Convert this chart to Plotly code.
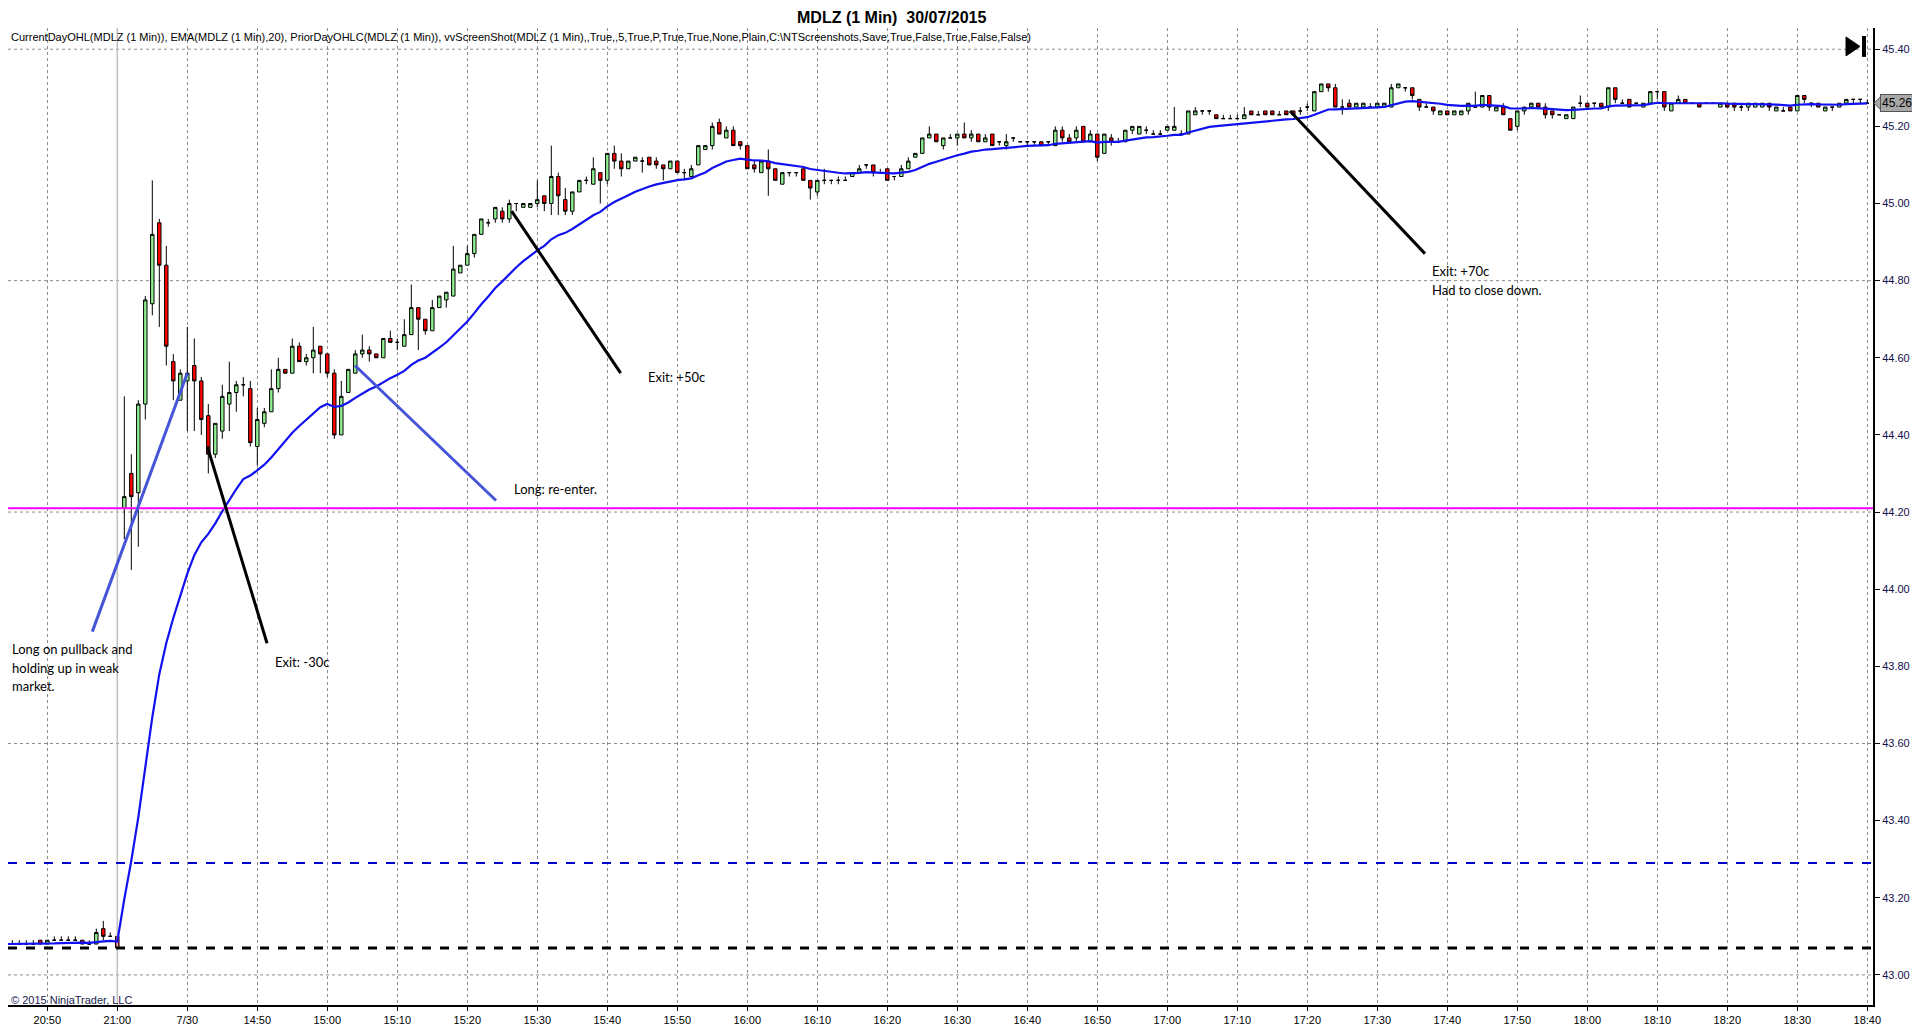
import pandas as pd
import plotly.graph_objects as go

# bar index: -16..0 = 20:44..21:00 of 29/07, 1..250 = 14:31..18:40 of 30/07
bar_idx = list(range(-16, 251))

opens = [
    43.08, 43.08, 43.08, 43.08, 43.08, 43.09, 43.08, 43.09, 43.09, 43.09,
    43.09, 43.09, 43.08, 43.08, 43.12, 43.10, 43.10,
    44.21, 44.30, 44.25, 44.48, 44.74, 44.95, 44.84, 44.59, 44.49, 44.54,
    44.58, 44.54, 44.45, 44.35, 44.41, 44.48, 44.51, 44.53, 44.52, 44.37,
    44.43, 44.46, 44.52, 44.57, 44.56, 44.63, 44.59, 44.60, 44.63, 44.61,
    44.56, 44.40, 44.51, 44.56, 44.61, 44.62, 44.61, 44.60, 44.65, 44.64,
    44.63, 44.66, 44.73, 44.70, 44.67, 44.73, 44.75, 44.76, 44.82, 44.84,
    44.87, 44.92, 44.95, 44.96, 44.98, 44.96, 45.00, 44.99, 44.99, 45.00,
    45.02, 45.00, 45.07, 45.01, 44.98, 45.03, 45.06, 45.05, 45.08, 45.06,
    45.13, 45.11, 45.09, 45.11, 45.11, 45.12, 45.11, 45.10, 45.09, 45.11,
    45.08, 45.07, 45.10, 45.14, 45.15, 45.21, 45.17, 45.19, 45.16, 45.15,
    45.10, 45.08, 45.11, 45.09, 45.05, 45.08, 45.08, 45.09, 45.06, 45.03,
    45.06, 45.06, 45.06, 45.06, 45.07, 45.08, 45.10, 45.10, 45.08, 45.09,
    45.07, 45.07, 45.09, 45.12, 45.13, 45.17, 45.18, 45.15, 45.17, 45.17,
    45.18, 45.17, 45.18, 45.16, 45.18, 45.16, 45.15, 45.17, 45.16, 45.16,
    45.16, 45.16, 45.16, 45.15, 45.19, 45.17, 45.17, 45.20, 45.16, 45.18,
    45.13, 45.17, 45.16, 45.16, 45.19, 45.18, 45.19, 45.18, 45.18, 45.19,
    45.19, 45.18, 45.18, 45.23, 45.24, 45.24, 45.23, 45.22, 45.22, 45.22,
    45.22, 45.24, 45.23, 45.24, 45.24, 45.23, 45.24, 45.24, 45.24, 45.25,
    45.24, 45.29, 45.31, 45.30, 45.25, 45.26, 45.25, 45.25, 45.25, 45.25,
    45.25, 45.25, 45.30, 45.30, 45.30, 45.27, 45.25, 45.25, 45.23, 45.24,
    45.23, 45.23, 45.24, 45.25, 45.25, 45.28, 45.24, 45.25, 45.22, 45.20,
    45.24, 45.25, 45.26, 45.25, 45.24, 45.23, 45.22, 45.22, 45.26, 45.26,
    45.26, 45.26, 45.25, 45.30, 45.26, 45.27, 45.26, 45.25, 45.26, 45.29,
    45.29, 45.24, 45.26, 45.27, 45.26, 45.26, 45.26, 45.26, 45.25, 45.26,
    45.26, 45.25, 45.25, 45.25, 45.25, 45.26, 45.24, 45.24, 45.25, 45.24,
    45.28, 45.26, 45.26, 45.24, 45.25, 45.25, 45.26, 45.27, 45.27, 45.26,
]
highs = [
    43.09, 43.09, 43.09, 43.09, 43.09, 43.09, 43.09, 43.10, 43.10, 43.10,
    43.10, 43.09, 43.09, 43.12, 43.14, 43.11, 43.10,
    44.50, 44.35, 44.49, 44.76, 45.06, 44.96, 44.89, 44.61, 44.57, 44.68,
    44.65, 44.55, 44.48, 44.43, 44.53, 44.59, 44.54, 44.55, 44.54, 44.47,
    44.47, 44.57, 44.60, 44.57, 44.65, 44.64, 44.61, 44.68, 44.63, 44.61,
    44.57, 44.54, 44.57, 44.62, 44.66, 44.63, 44.61, 44.65, 44.67, 44.65,
    44.70, 44.79, 44.73, 44.70, 44.75, 44.76, 44.77, 44.89, 44.84, 44.89,
    44.92, 44.96, 44.96, 44.99, 44.99, 45.01, 45.00, 45.00, 45.00, 45.06,
    45.02, 45.15, 45.08, 45.04, 45.03, 45.06, 45.07, 45.12, 45.08, 45.13,
    45.15, 45.13, 45.11, 45.12, 45.12, 45.12, 45.12, 45.10, 45.11, 45.11,
    45.09, 45.10, 45.15, 45.15, 45.21, 45.22, 45.20, 45.20, 45.16, 45.15,
    45.11, 45.11, 45.14, 45.09, 45.08, 45.08, 45.08, 45.09, 45.06, 45.06,
    45.09, 45.06, 45.07, 45.07, 45.08, 45.10, 45.10, 45.10, 45.09, 45.09,
    45.07, 45.10, 45.12, 45.13, 45.17, 45.20, 45.18, 45.17, 45.18, 45.18,
    45.21, 45.19, 45.18, 45.18, 45.18, 45.16, 45.18, 45.17, 45.16, 45.16,
    45.16, 45.16, 45.16, 45.20, 45.20, 45.18, 45.20, 45.20, 45.19, 45.18,
    45.18, 45.18, 45.17, 45.19, 45.20, 45.20, 45.20, 45.19, 45.19, 45.20,
    45.25, 45.19, 45.24, 45.25, 45.24, 45.24, 45.23, 45.23, 45.23, 45.23,
    45.25, 45.24, 45.24, 45.24, 45.24, 45.24, 45.24, 45.24, 45.25, 45.26,
    45.29, 45.31, 45.31, 45.31, 45.27, 45.27, 45.26, 45.26, 45.26, 45.26,
    45.26, 45.31, 45.31, 45.30, 45.30, 45.27, 45.26, 45.25, 45.24, 45.24,
    45.24, 45.24, 45.26, 45.29, 45.28, 45.28, 45.25, 45.26, 45.22, 45.24,
    45.25, 45.26, 45.26, 45.26, 45.24, 45.23, 45.23, 45.25, 45.28, 45.26,
    45.26, 45.26, 45.30, 45.30, 45.27, 45.27, 45.26, 45.26, 45.29, 45.29,
    45.29, 45.26, 45.28, 45.27, 45.26, 45.26, 45.26, 45.26, 45.26, 45.26,
    45.26, 45.26, 45.26, 45.26, 45.26, 45.26, 45.25, 45.25, 45.25, 45.28,
    45.28, 45.26, 45.26, 45.25, 45.25, 45.26, 45.27, 45.27, 45.27, 45.27,
]
lows = [
    43.08, 43.08, 43.08, 43.08, 43.08, 43.08, 43.08, 43.09, 43.09, 43.09,
    43.09, 43.08, 43.08, 43.08, 43.09, 43.10, 43.07,
    44.13, 44.05, 44.11, 44.44, 44.71, 44.68, 44.58, 44.49, 44.49, 44.41,
    44.41, 44.40, 44.30, 44.34, 44.39, 44.41, 44.46, 44.50, 44.37, 44.32,
    44.42, 44.46, 44.51, 44.56, 44.56, 44.59, 44.58, 44.56, 44.56, 44.55,
    44.39, 44.40, 44.51, 44.56, 44.60, 44.59, 44.60, 44.60, 44.64, 44.62,
    44.63, 44.66, 44.62, 44.66, 44.67, 44.73, 44.73, 44.76, 44.82, 44.84,
    44.86, 44.92, 44.94, 44.95, 44.95, 44.95, 44.98, 44.99, 44.99, 44.99,
    44.98, 44.97, 44.97, 44.97, 44.97, 45.03, 45.05, 45.05, 45.00, 45.05,
    45.09, 45.07, 45.09, 45.11, 45.08, 45.10, 45.09, 45.06, 45.09, 45.08,
    45.06, 45.07, 45.10, 45.14, 45.14, 45.18, 45.17, 45.15, 45.14, 45.09,
    45.08, 45.08, 45.02, 45.06, 45.05, 45.07, 45.07, 45.06, 45.01, 45.02,
    45.05, 45.05, 45.05, 45.06, 45.07, 45.08, 45.09, 45.07, 45.08, 45.06,
    45.06, 45.07, 45.09, 45.12, 45.13, 45.17, 45.16, 45.14, 45.17, 45.15,
    45.17, 45.16, 45.16, 45.16, 45.15, 45.15, 45.14, 45.16, 45.16, 45.15,
    45.15, 45.15, 45.15, 45.15, 45.16, 45.16, 45.16, 45.16, 45.16, 45.11,
    45.13, 45.15, 45.16, 45.16, 45.18, 45.18, 45.18, 45.18, 45.18, 45.19,
    45.19, 45.18, 45.18, 45.23, 45.23, 45.23, 45.22, 45.22, 45.22, 45.22,
    45.22, 45.23, 45.23, 45.23, 45.23, 45.23, 45.23, 45.23, 45.23, 45.24,
    45.24, 45.29, 45.29, 45.25, 45.23, 45.25, 45.25, 45.25, 45.25, 45.25,
    45.25, 45.25, 45.30, 45.29, 45.27, 45.24, 45.25, 45.23, 45.23, 45.23,
    45.23, 45.23, 45.23, 45.25, 45.25, 45.24, 45.24, 45.23, 45.19, 45.19,
    45.23, 45.25, 45.25, 45.22, 45.22, 45.23, 45.22, 45.22, 45.25, 45.25,
    45.25, 45.25, 45.24, 45.26, 45.26, 45.25, 45.26, 45.25, 45.26, 45.27,
    45.24, 45.24, 45.26, 45.26, 45.26, 45.25, 45.26, 45.26, 45.25, 45.25,
    45.24, 45.24, 45.24, 45.25, 45.25, 45.24, 45.24, 45.24, 45.24, 45.24,
    45.26, 45.25, 45.25, 45.24, 45.24, 45.25, 45.26, 45.26, 45.26, 45.26,
]
closes = [
    43.08, 43.08, 43.08, 43.08, 43.08, 43.08, 43.09, 43.09, 43.09, 43.09,
    43.09, 43.08, 43.08, 43.11, 43.10, 43.10, 43.07,
    44.24, 44.24, 44.48, 44.75, 44.92, 44.84, 44.63, 44.54, 44.56, 44.56,
    44.54, 44.44, 44.35, 44.43, 44.50, 44.51, 44.53, 44.53, 44.38, 44.44,
    44.46, 44.52, 44.57, 44.56, 44.63, 44.59, 44.60, 44.62, 44.61, 44.56,
    44.40, 44.50, 44.57, 44.61, 44.62, 44.61, 44.60, 44.65, 44.64, 44.64,
    44.66, 44.73, 44.70, 44.67, 44.73, 44.76, 44.77, 44.83, 44.84, 44.87,
    44.92, 44.96, 44.95, 44.99, 44.96, 45.00, 45.00, 45.00, 45.00, 45.01,
    45.00, 45.07, 45.02, 44.98, 45.03, 45.06, 45.06, 45.09, 45.06, 45.13,
    45.11, 45.09, 45.11, 45.12, 45.11, 45.10, 45.10, 45.09, 45.11, 45.08,
    45.08, 45.09, 45.15, 45.15, 45.20, 45.18, 45.19, 45.15, 45.15, 45.09,
    45.09, 45.11, 45.09, 45.06, 45.08, 45.08, 45.08, 45.06, 45.04, 45.06,
    45.06, 45.06, 45.06, 45.06, 45.08, 45.09, 45.10, 45.08, 45.08, 45.06,
    45.07, 45.09, 45.11, 45.13, 45.17, 45.18, 45.16, 45.17, 45.17, 45.18,
    45.17, 45.18, 45.16, 45.17, 45.15, 45.16, 45.16, 45.17, 45.16, 45.16,
    45.16, 45.15, 45.16, 45.19, 45.17, 45.16, 45.19, 45.16, 45.18, 45.12,
    45.18, 45.16, 45.16, 45.19, 45.20, 45.20, 45.19, 45.18, 45.18, 45.20,
    45.20, 45.18, 45.24, 45.24, 45.24, 45.24, 45.22, 45.22, 45.22, 45.22,
    45.23, 45.23, 45.23, 45.23, 45.23, 45.23, 45.23, 45.23, 45.24, 45.25,
    45.29, 45.31, 45.30, 45.25, 45.25, 45.25, 45.26, 45.26, 45.25, 45.26,
    45.26, 45.30, 45.31, 45.30, 45.28, 45.25, 45.25, 45.24, 45.24, 45.23,
    45.24, 45.24, 45.26, 45.25, 45.28, 45.25, 45.25, 45.23, 45.19, 45.24,
    45.25, 45.26, 45.25, 45.23, 45.23, 45.23, 45.23, 45.25, 45.26, 45.25,
    45.26, 45.25, 45.30, 45.27, 45.26, 45.25, 45.26, 45.26, 45.29, 45.29,
    45.25, 45.26, 45.27, 45.26, 45.26, 45.25, 45.26, 45.26, 45.26, 45.25,
    45.25, 45.25, 45.26, 45.26, 45.26, 45.25, 45.25, 45.24, 45.24, 45.28,
    45.27, 45.26, 45.25, 45.25, 45.25, 45.26, 45.27, 45.27, 45.27, 45.26,
]

tick_idx = list(range(-10, 251, 10))
tick_text = ["20:50", "21:00", "7/30", "14:50", "15:00", "15:10", "15:20", "15:30",
             "15:40", "15:50", "16:00", "16:10", "16:20", "16:30", "16:40", "16:50",
             "17:00", "17:10", "17:20", "17:30", "17:40", "17:50", "18:00", "18:10",
             "18:20", "18:30", "18:40"]

price_ticks = [43.00, 43.20, 43.40, 43.60, 43.80, 44.00, 44.20, 44.40,
               44.60, 44.80, 45.00, 45.20, 45.40]
price_grid = [43.00, 43.60, 44.20, 44.80, 45.40]

current_day_open = 44.21   # magenta
prior_day_level = 43.29    # blue dashed
prior_day_close = 43.07    # black dashed
session_break = 0          # bar index of the 21:00 close

ema_len = 20

# hand drawn trade lines (bar index, price)
trade_lines = [
    ((-3.57, 43.89), (10.0, 44.56), "rgb(70,85,215)"),
    ((12.86, 44.37), (21.39, 43.86), "black"),
    ((33.96, 44.58), (54.1, 44.23), "rgb(70,85,215)"),
    ((56.34, 44.98), (71.91, 44.56), "black"),
    ((167.53, 45.24), (186.81, 44.87), "black"),
]
notes = [
    (-15.3, 43.846, "Long on pullback and"),
    (-15.3, 43.797, "holding up in weak"),
    (-15.3, 43.750, "market."),
    (22.2, 43.81, "Exit: -30c"),
    (56.4, 44.26, "Long: re-enter."),
    (75.5, 44.549, "Exit: +50c"),
    (187.5, 44.825, "Exit: +70c"),
    (187.5, 44.777, "Had to close down."),
]

assert len(opens) == len(highs) == len(lows) == len(closes) == len(bar_idx)

df = pd.DataFrame({"bar": bar_idx, "open": opens, "high": highs, "low": lows, "close": closes})
df["ema"] = df["close"].ewm(span=ema_len, adjust=False).mean()

# page body adds 8px offset, so the figure is 16px smaller than the window
W, H = 1904, 1018
OFF = 8
plot_l, plot_r, plot_t, plot_b = 8, 1873, 28, 1009   # plot box in window pixels


def px(X):
    return (X - plot_l) / (plot_r - plot_l)


def py(Y):
    return (plot_b - Y) / (plot_b - plot_t)


narrow = "Liberation Sans Narrow, Arial Narrow, Liberation Sans, Arial"
yr = [42.922, 45.455]
xr = [(plot_l - 117.3) / 7.0, (plot_r - 117.3) / 7.0]

fig = go.Figure()
# session break line drawn as a trace so it sits above the dotted grid but under the candles
fig.add_trace(go.Scatter(x=[session_break, session_break], y=yr, mode="lines",
                         line=dict(color="#c0c0c0", width=1.5), showlegend=False, hoverinfo="skip"))
fig.add_trace(go.Candlestick(
    x=df["bar"], open=df["open"], high=df["high"], low=df["low"], close=df["close"],
    increasing=dict(fillcolor="#90ee90", line=dict(color="black", width=1)),
    decreasing=dict(fillcolor="#ff0000", line=dict(color="black", width=1)),
    whiskerwidth=0, showlegend=False, hoverinfo="skip"))
fig.add_trace(go.Scatter(x=df["bar"], y=df["ema"], mode="lines",
                         line=dict(color="#1010f0", width=2.2), showlegend=False, hoverinfo="skip"))

# horizontal levels
for lvl, col, dash, w in [(current_day_open, "#ff00ff", "solid", 2),
                          (prior_day_level, "#0000cc", "dash", 2),
                          (prior_day_close, "black", "dash", 3)]:
    fig.add_shape(type="line", xref="x domain", yref="y", x0=0, x1=1, y0=lvl, y1=lvl,
                  line=dict(color=col, width=w, dash=dash))

# price grid (every 0.60)
for g in price_grid:
    fig.add_shape(type="line", xref="x domain", yref="y", x0=0, x1=1, y0=g, y1=g,
                  line=dict(color="#8c8c8c", width=1, dash="dot"), layer="below")

for (x0, y0), (x1, y1), col in trade_lines:
    fig.add_shape(type="line", x0=x0, y0=y0, x1=x1, y1=y1, line=dict(color=col, width=3))

for x, y, t in notes:
    fig.add_annotation(x=x, y=y, text=t, showarrow=False, xanchor="left", yanchor="middle",
                       font=dict(family="Lato", size=13, color="black"))

# last price tag
last = closes[-1]
fig.add_annotation(xref="paper", x=px(1880), y=last, text="%.2f" % last, showarrow=False,
                   xanchor="left", yanchor="middle", bgcolor="#a8a8a8", bordercolor="#555555",
                   borderwidth=1, borderpad=1, font=dict(family=narrow, size=12, color="black"))
fig.add_shape(type="path", xref="paper", yref="y",
              path="M %f %f L %f %f L %f %f Z" % (px(1874), last, px(1881), last + 0.018,
                                                  px(1881), last - 0.018),
              fillcolor="#a8a8a8", line=dict(color="#555555", width=1))

# "go to end" button
fig.add_shape(type="path", xref="paper", yref="paper",
              path="M %f %f L %f %f L %f %f Z" % (px(1846), py(37), px(1860), py(46.5), px(1846), py(56)),
              fillcolor="black", line=dict(color="black", width=1))
fig.add_shape(type="rect", xref="paper", yref="paper", x0=px(1862), x1=px(1866), y0=py(57), y1=py(36),
              fillcolor="black", line=dict(width=0))

fig.add_annotation(xref="paper", yref="paper", x=px(891), y=py(17), text="<b>MDLZ (1 Min)  30/07/2015</b>",
                   showarrow=False, xanchor="center", yanchor="middle",
                   font=dict(family=narrow, size=16, color="black"))
fig.add_annotation(xref="paper", yref="paper", x=px(9), y=py(37),
                   text="CurrentDayOHL(MDLZ (1 Min)), EMA(MDLZ (1 Min),20), PriorDayOHLC(MDLZ (1 Min)), "
                        "vvScreenShot(MDLZ (1 Min),,True,,5,True,P,True,True,None,Plain,C:\\NTScreenshots,Save,True,False,True,False,False)",
                   showarrow=False, xanchor="left", yanchor="middle",
                   font=dict(family=narrow, size=11, color="black"))
fig.add_annotation(xref="paper", yref="paper", x=px(9), y=py(1004), text="© 2015 NinjaTrader, LLC",
                   showarrow=False, xanchor="left", yanchor="middle",
                   font=dict(family=narrow, size=11, color="#1a1a50"))

fig.update_layout(
    width=W, height=H,
    margin=dict(l=plot_l - OFF, r=W - (plot_r - OFF), t=plot_t - OFF, b=H - (plot_b - OFF), pad=0),
    paper_bgcolor="white", plot_bgcolor="white",
    showlegend=False, hovermode=False,
    xaxis=dict(range=xr, rangeslider=dict(visible=False), tickmode="array",
               tickvals=tick_idx, ticktext=tick_text, ticks="outside", ticklen=4,
               tickcolor="black", showline=True, linecolor="black", linewidth=2,
               showgrid=True, gridcolor="#8c8c8c", griddash="dot", gridwidth=1,
               zeroline=False, tickfont=dict(family=narrow, size=11, color="black")),
    yaxis=dict(range=yr, side="right", tickmode="array", tickvals=price_ticks,
               ticktext=["%.2f" % p for p in price_ticks], ticks="outside", ticklen=5,
               tickcolor="black", showline=True, linecolor="black", linewidth=2,
               showgrid=False, zeroline=False,
               tickfont=dict(family=narrow, size=11, color="#10104a")),
)

fig.write_html("out.html")
